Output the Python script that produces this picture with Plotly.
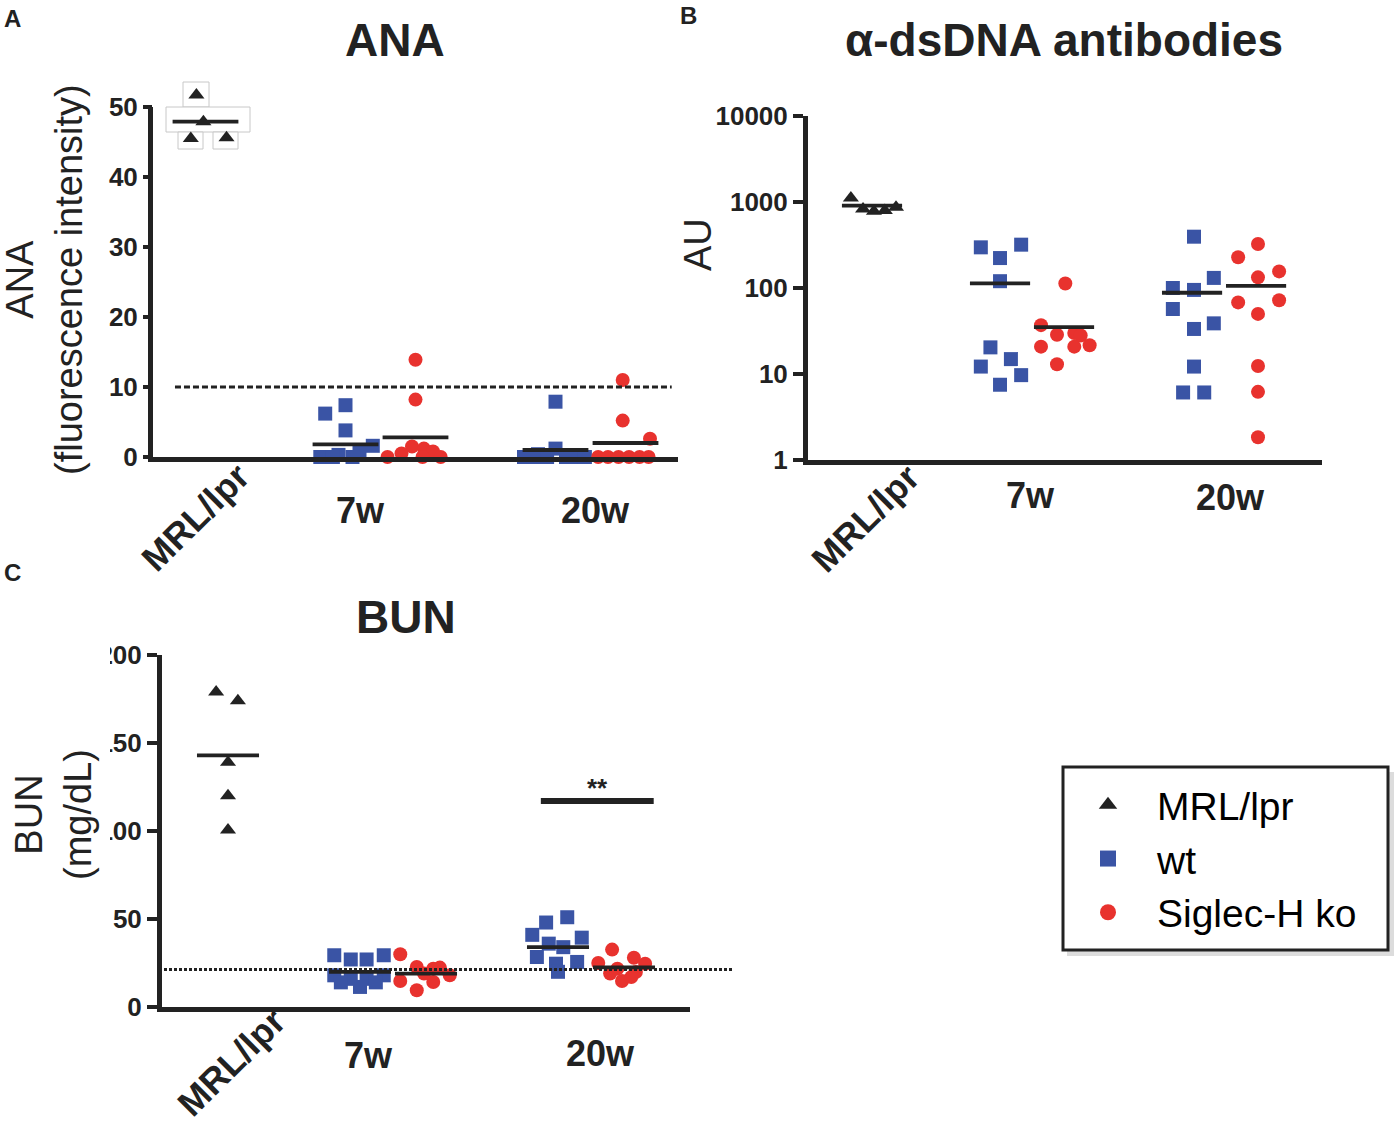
import plotly.graph_objects as go

W, H = 1399, 1124

# column slots: MRL/lpr, 7w wt, 7w ko, 20w wt, 20w ko
cols = [0, 2, 3, 5, 6]

# --- A: ANA (fluorescence intensity)
ana_mrl = [51.7, 47.9, 45.5, 45.6]
ana_mrl_jit = [-0.13, -0.03, -0.21, 0.3]
ana_7w_wt = [7.4, 6.2, 3.8, 1.6, 0.8, 0.3, 0, 0, 0]
ana_7w_wt_jit = [0.0, -0.29, 0.0, 0.39, 0.2, -0.1, -0.36, -0.18, 0.1]
ana_7w_ko = [13.9, 8.2, 1.5, 1.2, 0.8, 0.5, 0, 0, 0]
ana_7w_ko_jit = [0.0, 0.0, -0.05, 0.12, 0.25, -0.2, -0.4, 0.1, 0.36]
ana_20w_wt = [7.9, 1.2, 0.4, 0, 0, 0, 0, 0, 0]
ana_20w_wt_jit = [0.0, 0.0, -0.25, -0.45, -0.3, -0.12, 0.15, 0.3, 0.42]
ana_20w_ko = [11, 5.2, 2.6, 0, 0, 0, 0, 0, 0]
ana_20w_ko_jit = [-0.04, -0.04, 0.35, -0.39, -0.25, -0.1, 0.05, 0.2, 0.33]
ana_means = [47.9, 1.8, 2.8, 1.0, 2.0]
ana_cutoff = 10

# --- B: a-dsDNA antibodies (AU)
dna_mrl = [1114, 830, 781, 796, 870]
dna_mrl_jit = [-0.33, -0.14, 0.03, 0.2, 0.375]
dna_7w_wt = [297, 319, 223, 120, 20.4, 14.9, 12.2, 9.7, 7.5]
dna_7w_wt_jit = [-0.3, 0.33, 0.0, 0.0, -0.15, 0.17, -0.3, 0.33, 0.0]
dna_7w_ko = [113, 37, 28.6, 30, 28, 20.8, 20.8, 21.6, 13]
dna_7w_ko_jit = [0.02, -0.36, -0.11, 0.16, 0.26, -0.36, 0.16, 0.4, -0.11]
dna_20w_wt = [395, 131, 100, 95, 57, 38.8, 33.4, 12.2, 6.1, 6.1]
dna_20w_wt_jit = [0.03, 0.34, -0.3, 0.03, -0.3, 0.34, 0.03, 0.03, -0.14, 0.19]
dna_20w_ko = [325, 228, 133, 156, 68, 72, 50, 12.4, 6.2, 1.84]
dna_20w_ko_jit = [0.03, -0.28, 0.03, 0.36, -0.28, 0.36, 0.03, 0.03, 0.03, 0.03]
dna_means = [906, 113, 35, 88, 106]

# --- C: BUN (mg/dL)
bun_mrl = [179, 174, 139, 120, 100.5]
bun_mrl_jit = [-0.18, 0.15, 0.0, 0.0, 0.0]
bun_7w_wt = [29.4, 27, 27, 29.4, 18, 16, 16, 18, 11.4, 14, 14]
bun_7w_wt_jit = [-0.39, -0.14, 0.1, 0.36, -0.39, -0.14, 0.1, 0.36, 0.0, -0.29, 0.24]
bun_7w_ko = [30, 22.7, 21.8, 22.4, 18, 14.8, 14.2, 9.5, 19]
bun_7w_ko_jit = [-0.39, -0.14, 0.11, 0.21, 0.36, -0.39, 0.11, -0.14, -0.03]
bun_20w_wt = [51, 48, 41, 39.4, 36, 34, 28.4, 25.6, 24.6, 20]
bun_20w_wt_jit = [0.14, -0.18, -0.39, 0.36, -0.14, 0.08, -0.32, 0.29, -0.03, 0.0]
bun_20w_ko = [32.6, 28, 25, 24.6, 21.8, 19.9, 19, 14.8, 17]
bun_20w_ko_jit = [-0.18, 0.15, -0.39, 0.32, -0.1, 0.18, -0.21, -0.03, 0.11]
bun_means = [143, 20, 19, 34, 22.5]
bun_ref = 21.3
bun_sig = 117

legend_names = ["MRL/lpr", "wt", "Siglec-H ko"]

INK = "#222222"
BLUE = "#3a54a5"
RED = "#e8322e"
FONT = "Liberation Sans, Arial, sans-serif"


def fx(p):
    return p / W


def fy(p):
    return 1 - p / H


styles = [
    dict(symbol="triangle-up", size=14, color=INK),
    dict(symbol="square", size=14, color=BLUE),
    dict(symbol="circle", size=14, color=RED),
]
kinds = [0, 1, 2, 1, 2]

panels = [
    dict(ax="", groups=[(ana_mrl, ana_mrl_jit), (ana_7w_wt, ana_7w_wt_jit), (ana_7w_ko, ana_7w_ko_jit),
                        (ana_20w_wt, ana_20w_wt_jit), (ana_20w_ko, ana_20w_ko_jit)],
         means=ana_means),
    dict(ax="2", groups=[(dna_mrl, dna_mrl_jit), (dna_7w_wt, dna_7w_wt_jit), (dna_7w_ko, dna_7w_ko_jit),
                         (dna_20w_wt, dna_20w_wt_jit), (dna_20w_ko, dna_20w_ko_jit)],
         means=dna_means),
    dict(ax="3", groups=[(bun_mrl, bun_mrl_jit), (bun_7w_wt, bun_7w_wt_jit), (bun_7w_ko, bun_7w_ko_jit),
                         (bun_20w_wt, bun_20w_wt_jit), (bun_20w_ko, bun_20w_ko_jit)],
         means=bun_means),
]

fig = go.Figure()

for p in panels:
    xa, ya = "x" + p["ax"], "y" + p["ax"]
    for i, (vals, jit) in enumerate(p["groups"]):
        fig.add_trace(go.Scatter(
            x=[cols[i] + j for j in jit], y=vals, mode="markers",
            marker=styles[kinds[i]], cliponaxis=False, xaxis=xa, yaxis=ya, showlegend=False))
    lx, ly = [], []
    for c, m in zip(cols, p["means"]):
        lx += [c - 0.47, c + 0.47, None]
        ly += [m, m, None]
    fig.add_trace(go.Scatter(x=lx, y=ly, mode="lines", line=dict(color=INK, width=3.8),
                             xaxis=xa, yaxis=ya, showlegend=False, cliponaxis=False))

# legend-only entries
legend_sizes = [18, 22, 18]
for k, name in enumerate(legend_names):
    fig.add_trace(go.Scatter(x=[None], y=[None], mode="markers", name=name,
                             marker=dict(styles[k], size=legend_sizes[k]), legendrank=k + 1,
                             xaxis="x2", yaxis="y2"))

tick_font = dict(family=FONT, size=26, color=INK, weight="bold")
xcommon = dict(showline=True, linewidth=5, linecolor=INK, showticklabels=False, ticks="",
               showgrid=False, zeroline=False, automargin=False)
ycommon = dict(showline=True, linewidth=5, linecolor=INK, ticks="outside", ticklen=10, tickwidth=4,
               tickcolor=INK, tickfont=tick_font, showgrid=False, zeroline=False, automargin=False)

A_top = 53.5
A_px = 7.0  # pixels per unit on A
A_y = [fy(457), fy(457 - A_top * A_px)]
B_y = [fy(460), fy(116)]
C_y = [fy(1007), fy(655)]

fig.update_layout(
    xaxis=dict(xcommon, domain=[fx(153), fx(678)], range=[-0.75, 6.75], anchor="y"),
    # A: the axis line itself stops at 50, drawn below as a shape
    yaxis=dict(ycommon, domain=A_y, range=[0, A_top], tickvals=[0, 10, 20, 30, 40, 50],
               showline=False, ticklen=9, anchor="x"),
    xaxis2=dict(xcommon, domain=[fx(808), fx(1322)], range=[-1.0, 7.03], anchor="y2"),
    yaxis2=dict(ycommon, domain=B_y, type="log", range=[0, 4], tickvals=[1, 10, 100, 1000, 10000],
                ticktext=["1", "10", "100", "1000", "10000"], anchor="x2"),
    xaxis3=dict(xcommon, domain=[fx(162), fx(690)], range=[-1.0, 7.0], anchor="y3"),
    yaxis3=dict(ycommon, domain=C_y, range=[0, 200], tickvals=[0, 50, 100, 150, 200], anchor="x3"),
)


def a_paper(v):
    return A_y[0] + v / A_top * (A_y[1] - A_y[0])


def c_paper(v):
    return C_y[0] + v / 200 * (C_y[1] - C_y[0])


gray_box = dict(type="rect", xref="paper", yref="paper", line=dict(color="#c8c8c8", width=1),
                fillcolor="white", layer="below")
shapes = [
    # odd white cut-out box behind the MRL/lpr points in A
    dict(gray_box, x0=fx(183), x1=fx(209), y0=fy(107), y1=fy(82)),
    dict(gray_box, x0=fx(166), x1=fx(250), y0=fy(132), y1=fy(107)),
    dict(gray_box, x0=fx(178), x1=fx(203), y0=fy(149), y1=fy(132)),
    dict(gray_box, x0=fx(213), x1=fx(238), y0=fy(149), y1=fy(132)),
    # A y-axis line, 0 to 50
    dict(type="line", xref="paper", yref="paper", x0=fx(150.5), x1=fx(150.5), y0=fy(462),
         y1=a_paper(50), line=dict(color=INK, width=5)),
    # ANA cutoff
    dict(type="line", xref="x", yref="y", x0=-0.436, x1=6.66, y0=ana_cutoff, y1=ana_cutoff,
         line=dict(color=INK, width=3, dash="6px,3px")),
    # BUN normal level, runs past the axis end
    dict(type="line", xref="paper", yref="paper", x0=fx(164), x1=fx(732), y0=c_paper(bun_ref),
         y1=c_paper(bun_ref), line=dict(color=INK, width=3, dash="3px,2px")),
    # significance bar
    dict(type="line", xref="x3", yref="y3", x0=4.74, x1=6.45, y0=bun_sig, y1=bun_sig,
         line=dict(color=INK, width=6)),
    # the hundreds digits of the C tick labels are cut off in the original
    dict(type="rect", xref="paper", yref="paper", x0=0, x1=fx(110), y0=fy(850), y1=fy(640),
         line=dict(width=0), fillcolor="white", layer="above"),
    # legend box with soft shadow
    dict(type="rect", xref="paper", yref="paper", x0=fx(1067), x1=fx(1394), y0=fy(956), y1=fy(772),
         line=dict(width=0), fillcolor="#dcdcdc", layer="below"),
    dict(type="rect", xref="paper", yref="paper", x0=fx(1063), x1=fx(1388), y0=fy(950), y1=fy(767),
         line=dict(color=INK, width=3), fillcolor="white", layer="below"),
]

ann = []


def text(x, y, s, size, bold=False, angle=0, color=INK):
    ann.append(dict(x=fx(x), y=fy(y), xref="paper", yref="paper", text=s, showarrow=False,
                    textangle=angle, xanchor="center", yanchor="middle",
                    font=dict(family=FONT, size=size, color=color, weight="bold" if bold else "normal")))


text(12, 18, "A", 24, True)
text(688, 16, "B", 24, True)
text(12, 572, "C", 24, True)

text(395, 40, "ANA", 46, True)
text(1064, 40, "α-dsDNA antibodies", 46, True)
text(406, 617, "BUN", 46, True)

text(44, 280, "ANA<br>(fluorescence intensity)", 38, angle=-90)
text(698, 245, "AU", 38, angle=-90)
text(53, 815, "BUN<br>(mg/dL)", 38, angle=-90)

for (mx, my), (sx, sy), (tx, ty) in [((195, 517), (360, 510), (595, 510)),
                                     ((865, 518), (1030, 495), (1230, 497)),
                                     ((231, 1062), (368, 1055), (600, 1053))]:
    text(mx, my, "MRL/lpr", 36, True, angle=-45)
    text(sx, sy, "7w", 36, True)
    text(tx, ty, "20w", 36, True)

ann.append(dict(x=5.6, y=bun_sig, xref="x3", yref="y3", text="**", showarrow=False,
                yanchor="bottom", yshift=-4, font=dict(family=FONT, size=26, color=INK, weight="bold")))

fig.update_layout(
    width=W, height=H, autosize=False,
    margin=dict(l=0, r=0, t=0, b=0, autoexpand=False),
    paper_bgcolor="white", plot_bgcolor="white",
    shapes=shapes, annotations=ann,
    showlegend=True,
    legend=dict(x=fx(1059), y=fy(773), xanchor="left", yanchor="top", bgcolor="rgba(0,0,0,0)",
                borderwidth=0, font=dict(family=FONT, size=39, color="black"),
                itemwidth=88, traceorder="normal", itemsizing="trace"),
)

fig.write_html("out.html", config={"displayModeBar": False},
               post_script="document.body.style.margin='0';")
